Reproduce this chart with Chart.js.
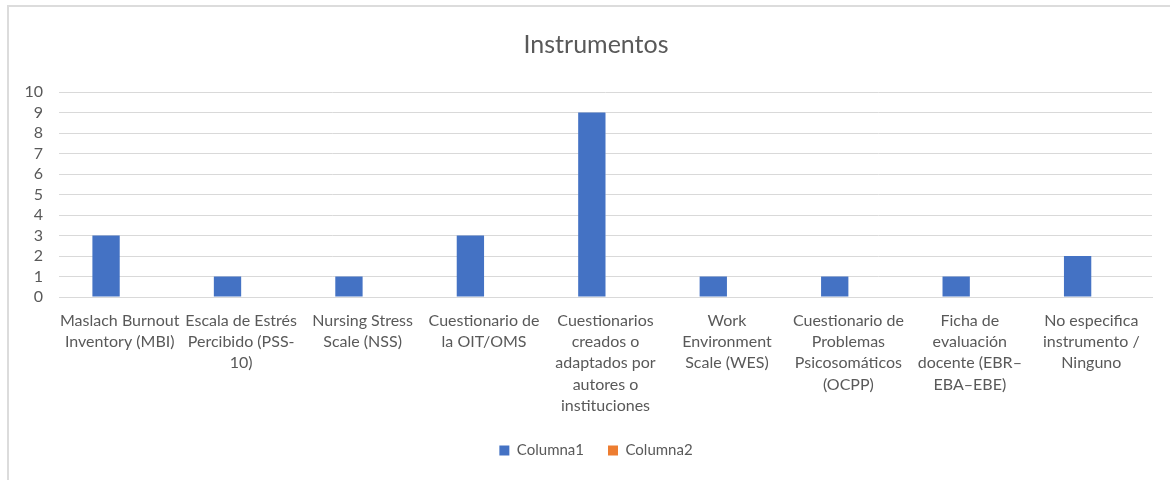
<!DOCTYPE html>
<html>
<head>
<meta charset="utf-8">
<script src="https://cdn.jsdelivr.net/npm/chart.js@4.4.0/dist/chart.umd.min.js"></script>
<style>
  html, body { margin: 0; padding: 0; background: #fff; }
  #wrap { position: relative; width: 1170px; height: 480px; }
  #frame {
    position: absolute; left: 7px; top: 5px; width: 1170px; height: 480px;
    border-left: 2px solid #dcdcdc; border-top: 2px solid #dcdcdc;
    pointer-events: none;
  }
</style>
</head>
<body>
<div id="wrap">
  <canvas id="chart" width="1170" height="480"></canvas>
  <div id="frame"></div>
</div>
<script>
// Category labels, already wrapped like the original
const categories = [
    ['Maslach Burnout', 'Inventory (MBI)'],
    ['Escala de Estrés', 'Percibido (PSS-', '10)'],
    ['Nursing Stress', 'Scale (NSS)'],
    ['Cuestionario de', 'la OIT/OMS'],
    ['Cuestionarios', 'creados o', 'adaptados por', 'autores o', 'instituciones'],
    ['Work', 'Environment', 'Scale (WES)'],
    ['Cuestionario de', 'Problemas', 'Psicosomáticos', '(OCPP)'],
    ['Ficha de', 'evaluación', 'docente (EBR–', 'EBA–EBE)'],
    ['No especifica', 'instrumento /', 'Ninguno']
];
const columna1 = [3, 1, 1, 3, 9, 1, 1, 1, 2];
const columna2 = [null, null, null, null, null, null, null, null, null];
const yTicks = [0, 1, 2, 3, 4, 5, 6, 7, 8, 9, 10];

const textColor = '#595959';
const gridColor = '#d9d9d9';
const fontFamily = 'Lato, "Open Sans", sans-serif';

// Excel centres title and legend a bit further right than Chart.js does
const centreShift = {
    id: 'centreShift',
    afterLayout(chart) {
        chart.titleBlock.left = 40;
        chart.legend.left = 40;
    }
};

document.addEventListener('DOMContentLoaded', () => {
    const ctx = document.getElementById('chart').getContext('2d');
    new Chart(ctx, {
        type: 'bar',
        data: {
            labels: categories,
            datasets: [
                {
                    label: 'Columna1',
                    data: columna1,
                    backgroundColor: '#4472C4',
                    borderWidth: 0,
                    categoryPercentage: 0.45,
                    barPercentage: 1
                },
                {
                    label: 'Columna2',
                    data: columna2,
                    backgroundColor: '#ED7D31',
                    borderWidth: 0,
                    categoryPercentage: 0.45,
                    barPercentage: 1
                }
            ]
        },
        plugins: [centreShift],
        options: {
            responsive: false,
            animation: false,
            layout: { padding: { left: 10, right: 18, top: 28, bottom: 12 } },
            plugins: {
                title: {
                    display: true,
                    text: 'Instrumentos',
                    color: textColor,
                    font: { family: fontFamily, size: 25, weight: 'normal', lineHeight: 1.2 },
                    padding: { top: 2, bottom: 32 }
                },
                legend: {
                    position: 'bottom',
                    labels: {
                        color: textColor,
                        font: { family: fontFamily, size: 15 },
                        boxWidth: 10,
                        boxHeight: 10,
                        padding: 24
                    }
                },
                tooltip: { enabled: false }
            },
            scales: {
                x: {
                    afterFit: (axis) => { axis.height = 122; },
                    grid: { display: false, drawTicks: false },
                    border: { display: true, color: gridColor, width: 1 },
                    ticks: {
                        color: textColor,
                        font: { family: fontFamily, size: 16, lineHeight: 1.33 },
                        maxRotation: 0,
                        minRotation: 0,
                        autoSkip: false,
                        padding: 13
                    }
                },
                y: {
                    min: 0,
                    max: 10,
                    afterFit: (axis) => { axis.width = 49; },
                    afterBuildTicks: (axis) => { axis.ticks = yTicks.map(v => ({ value: v })); },
                    grid: { color: gridColor, lineWidth: 1, drawTicks: false },
                    border: { display: false },
                    ticks: {
                        color: textColor,
                        font: { family: fontFamily, size: 16 },
                        autoSkip: false,
                        stepSize: 1,
                        padding: 16
                    }
                }
            }
        }
    });
});
</script>
</body>
</html>
